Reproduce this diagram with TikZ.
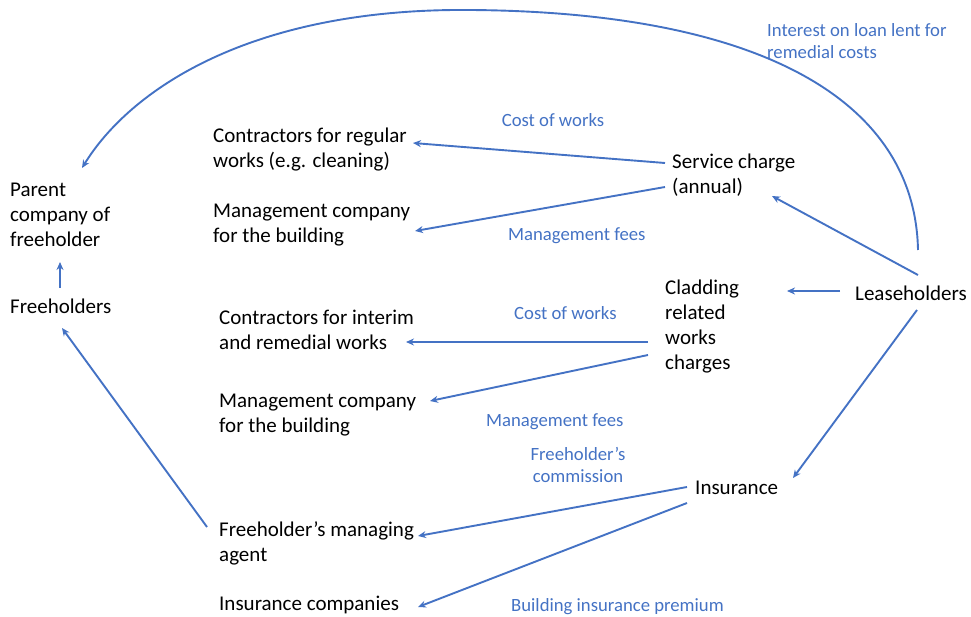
\documentclass[tikz,border=0pt]{standalone}
\usepackage{fontspec}
\setmainfont{Carlito}
\usetikzlibrary{calc,arrows.meta}
\definecolor{lblue}{HTML}{4472C4}
\begin{document}
\begin{tikzpicture}[x=1pt,y=-1pt,
  box/.style={anchor=west,align=left,inner sep=0pt,font=\fontsize{21}{25}\selectfont,text=black},
  lab/.style={inner sep=0pt,font=\fontsize{18.7}{22}\selectfont,text=lblue,align=left},
  arr/.style={draw=lblue,line width=1.9pt,-{Stealth[length=8pt,width=7pt]}}]
\useasboundingbox (0,0) rectangle (971,617);
% nodes
\node[box] (parent) at (10,215) {Parent\\company of\\freeholder};
\node[box] (free) at (10,306) {Freeholders};
\node[box] (creg) at (213,150) {Contractors for regular\\works (e.g. cleaning)};
\node[box] (mg1) at (213,225) {Management company\\for the building};
\node[box] (sc) at (672,175) {Service charge\\(annual)};
\node[box] (clad) at (665,327) {Cladding\\related\\works\\charges};
\node[box] (lease) at (855,293) {Leaseholders};
\node[box] (cint) at (219,330) {Contractors for interim\\and remedial works};
\node[box] (mg2) at (219,415) {Management company\\for the building};
\node[box] (ins) at (695,488) {Insurance};
\node[box] (fma) at (219,543) {Freeholder’s managing\\agent};
\node[box] (insco) at (219,605) {Insurance companies};
% labels
\node[lab,anchor=west] (l1) at (767,41) {Interest on loan lent for\\remedial costs};
\node[lab] (l2) at (553,120) {Cost of works};
\node[lab,anchor=west] (l3) at (508,236) {Management fees};
\node[lab,anchor=west] (l4) at (514,313) {Cost of works};
\node[lab,anchor=west] (l5) at (486,422) {Management fees};
\node[lab,align=center] (l6) at (578,465) {Freeholder’s\\commission};
\node[lab,anchor=west] (l7) at (511,607) {Building insurance premium};
% connectors
\draw[arr] ($(free.west)+(50,-18)$) -- ($(parent.west)+(50,47)$);
\draw[arr] ($(sc.west)+(-7,-12)$) -- ($(creg.west)+(200,-7)$);
\draw[arr] ($(sc.west)+(-7,12)$) -- ($(mg1.west)+(202,6)$);
\draw[arr] ($(lease.west)+(63,-18)$) -- ($(sc.west)+(100,21)$);
\draw[arr] ($(lease.west)+(-15,-2)$) -- ($(clad.west)+(122,-36)$);
\draw[arr] ($(clad.west)+(-17,15)$) -- ($(cint.west)+(187,12)$);
\draw[arr] ($(clad.west)+(-17,28)$) -- ($(mg2.west)+(211,-14)$);
\draw[arr] ($(lease.west)+(62,17)$) -- ($(ins.west)+(98,-10)$);
\draw[arr] ($(ins.west)+(-8,-1)$) -- ($(fma.west)+(199,-7)$);
\draw[arr] ($(ins.west)+(-8,15)$) -- ($(insco.west)+(199,2)$);
\draw[arr] ($(fma.west)+(-12,-16)$) -- ($(free.west)+(52,22)$);
\coordinate (top) at (470,10);
\draw[arr] ($(lease.west)+(63,-43)$) .. controls +(-3,-150) and +(290,2) .. (top)
  .. controls +(-220,-2) and +(48,-78) .. ($(parent.west)+(72,-47)$);
\end{tikzpicture}
\end{document}
